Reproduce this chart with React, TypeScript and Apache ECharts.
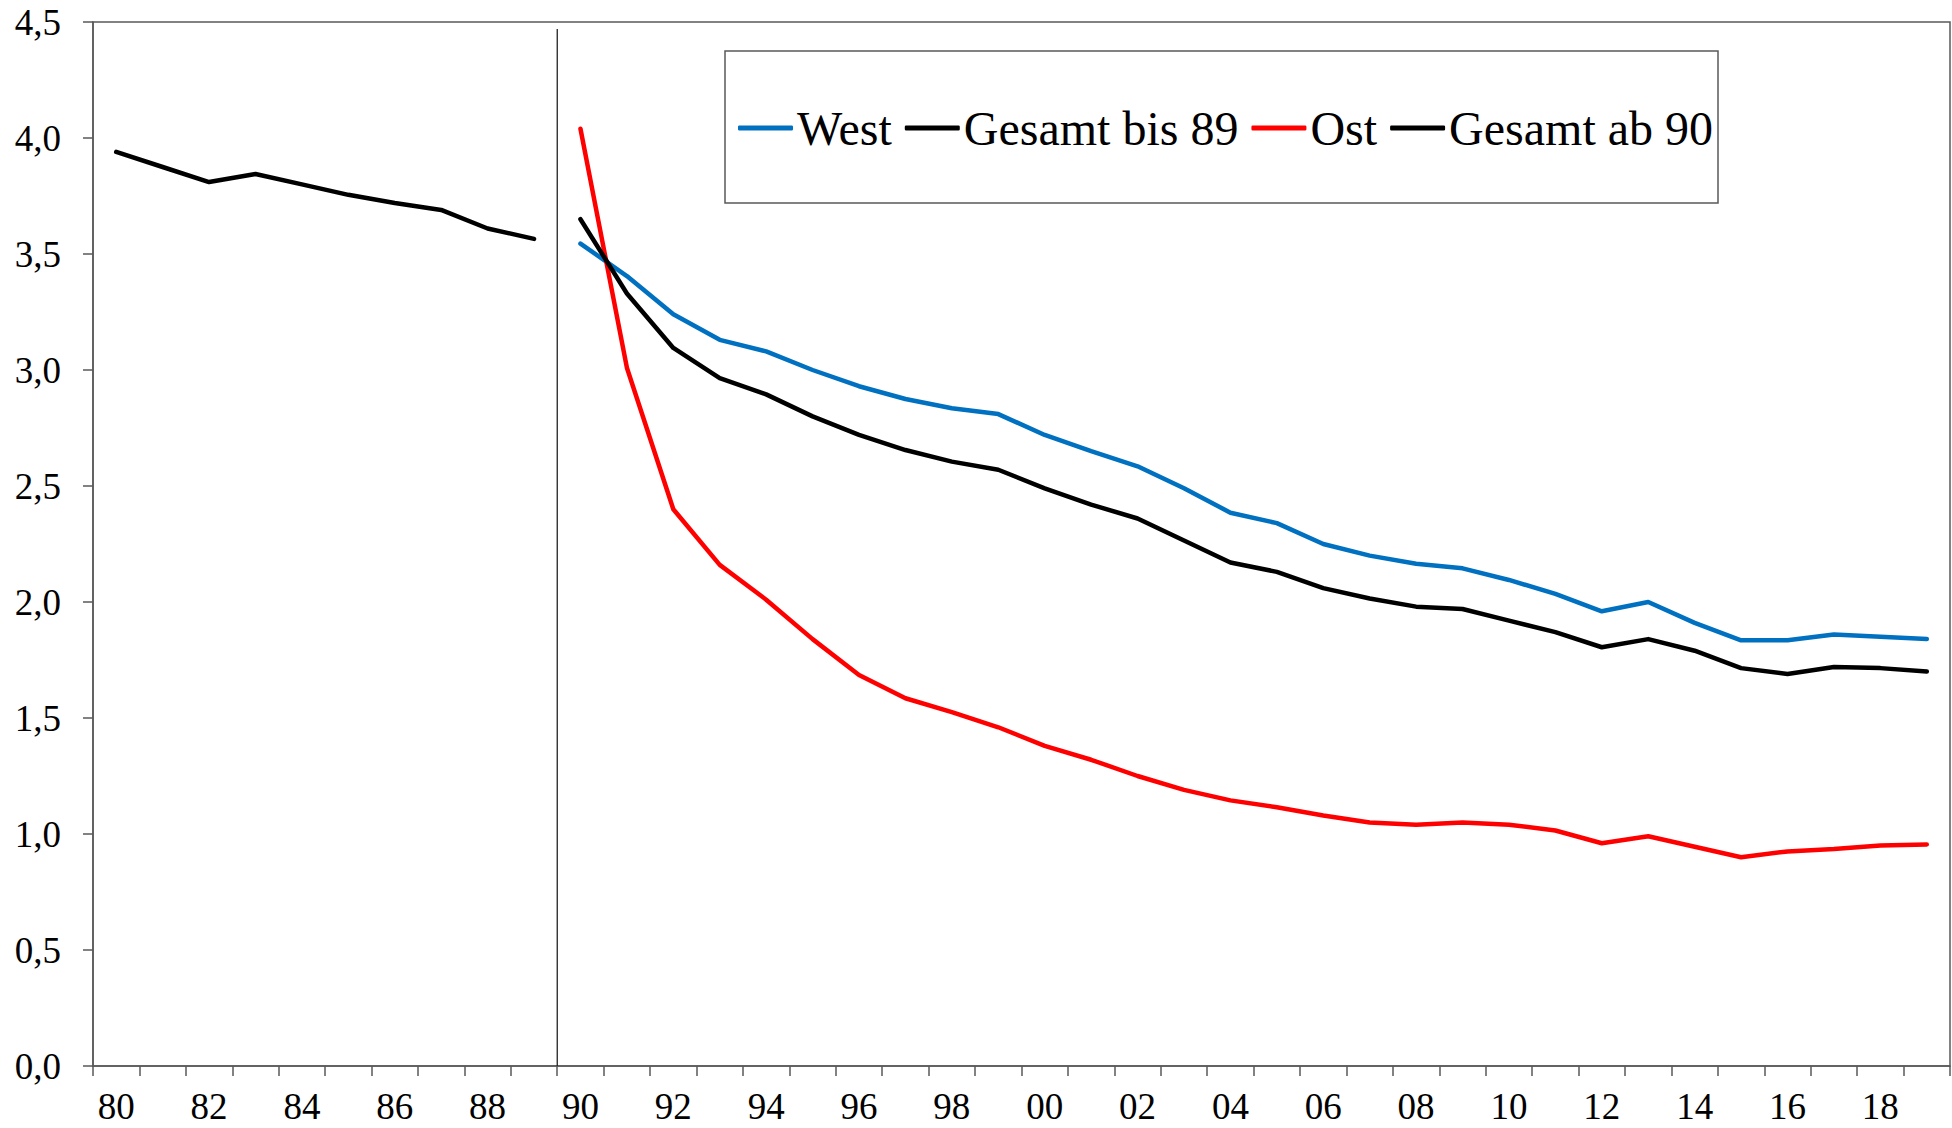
import React, { useEffect, useRef } from "react";
import * as echarts from "echarts";

const years: number[] = [];
for (let y = 1980; y <= 2019; y++) years.push(y);

const gesamtBis89 = [3.94, 3.875, 3.81, 3.845, 3.8, 3.755, 3.72, 3.69, 3.61, 3.565];

const west = [
  3.545, 3.405, 3.24, 3.13, 3.08, 3.0, 2.93, 2.875, 2.835, 2.81,
  2.72, 2.65, 2.585, 2.49, 2.385, 2.34, 2.25, 2.2, 2.165, 2.145,
  2.095, 2.035, 1.96, 2.0, 1.91, 1.835, 1.835, 1.86, 1.85, 1.84,
];

const ost = [
  4.04, 3.01, 2.4, 2.16, 2.01, 1.84, 1.685, 1.585, 1.525, 1.46,
  1.38, 1.32, 1.25, 1.19, 1.145, 1.115, 1.08, 1.05, 1.04, 1.05,
  1.04, 1.015, 0.96, 0.99, 0.945, 0.9, 0.925, 0.935, 0.95, 0.955,
];

const gesamtAb90 = [
  3.65, 3.33, 3.095, 2.965, 2.895, 2.8, 2.72, 2.655, 2.605, 2.57,
  2.49, 2.42, 2.36, 2.265, 2.17, 2.13, 2.06, 2.015, 1.98, 1.97,
  1.92, 1.87, 1.805, 1.84, 1.79, 1.715, 1.69, 1.72, 1.715, 1.70,
];

const legendNames = ["West", "Gesamt bis 89", "Ost", "Gesamt ab 90"];

// separator between 1989 and 1990 (category boundary index 10)
const separatorX = 10;
const separatorTop = 4.47;

const FONT = "Liberation Serif";

export default function App() {
  const ref = useRef<HTMLDivElement>(null);

  useEffect(() => {
    if (!ref.current) return;
    const chart = echarts.init(ref.current, undefined, { renderer: "svg" });

    const padBefore = (arr: number[]) =>
      years.map((_, i) => (i < 10 ? null : arr[i - 10]));
    const padAfter = (arr: number[]) =>
      years.map((_, i) => (i < arr.length ? arr[i] : null));

    const lineStyleFor = (color: string) => ({ color, width: 4.5, cap: "round" as const, join: "round" as const });

    chart.setOption({
      animation: false,
      backgroundColor: "#ffffff",
      textStyle: { fontFamily: FONT, color: "#000" },
      grid: {
        left: 93,
        right: 2,
        top: 22,
        bottom: 62,
        show: true,
        borderColor: "#595959",
        borderWidth: 1.5,
        containLabel: false,
      },
      legend: {
        data: legendNames,
        left: 738,
        top: 103,
        icon: "roundRect",
        itemWidth: 55,
        itemHeight: 5,
        itemGap: 13,
        padding: 0,
        textStyle: { fontFamily: FONT, fontSize: 48, color: "#000", lineHeight: 50, padding: [0, 0, 0, -1] },
      },
      graphic: [
        {
          type: "rect",
          shape: { x: 725, y: 51, width: 993, height: 152 },
          style: { fill: "none", stroke: "#595959", lineWidth: 1.5 },
          silent: true,
        },
      ],
      xAxis: [
        {
          type: "category",
          data: years.map(String),
          boundaryGap: true,
          axisLine: { show: true, lineStyle: { color: "#595959", width: 1.5 } },
          axisTick: { show: true, interval: 0, length: 10, lineStyle: { color: "#595959", width: 1.5 } },
          axisLabel: {
            interval: 1,
            margin: 22,
            fontFamily: FONT,
            fontSize: 37,
            color: "#000",
            formatter: (v: string) => v.slice(-2),
          },
          splitLine: { show: false },
        },
        {
          type: "value",
          min: 0,
          max: 40,
          show: false,
          position: "top",
        },
      ],
      yAxis: {
        type: "value",
        min: 0,
        max: 4.5,
        interval: 0.5,
        axisLine: { show: true, lineStyle: { color: "#595959", width: 1.5 } },
        axisTick: { show: true, length: 10, lineStyle: { color: "#595959", width: 1.5 } },
        axisLabel: {
          margin: 32,
          fontFamily: FONT,
          fontSize: 37,
          color: "#000",
          formatter: (v: number) => v.toFixed(1).replace(".", ","),
        },
        splitLine: { show: false },
      },
      series: [
        {
          name: "West",
          type: "line",
          data: padBefore(west),
          symbol: "none",
          color: "#0070C0",
          lineStyle: lineStyleFor("#0070C0"),
          z: 3,
        },
        {
          name: "Gesamt bis 89",
          type: "line",
          data: padAfter(gesamtBis89),
          symbol: "none",
          color: "#000000",
          lineStyle: lineStyleFor("#000000"),
          z: 4,
        },
        {
          name: "Ost",
          type: "line",
          data: padBefore(ost),
          symbol: "none",
          color: "#FF0000",
          lineStyle: lineStyleFor("#FF0000"),
          z: 3,
        },
        {
          name: "Gesamt ab 90",
          type: "line",
          data: padBefore(gesamtAb90),
          symbol: "none",
          color: "#000000",
          lineStyle: lineStyleFor("#000000"),
          z: 4,
        },
        {
          name: "separator",
          type: "line",
          xAxisIndex: 1,
          data: [
            [separatorX, 0],
            [separatorX, separatorTop],
          ],
          symbol: "none",
          silent: true,
          color: "#222",
          lineStyle: { color: "#222", width: 1.3 },
          z: 2,
        },
      ],
    });

    return () => chart.dispose();
  }, []);

  return (
    <div
      ref={ref}
      style={{ position: "fixed", left: 0, top: 0, width: 1952, height: 1128, background: "#fff" }}
    />
  );
}
